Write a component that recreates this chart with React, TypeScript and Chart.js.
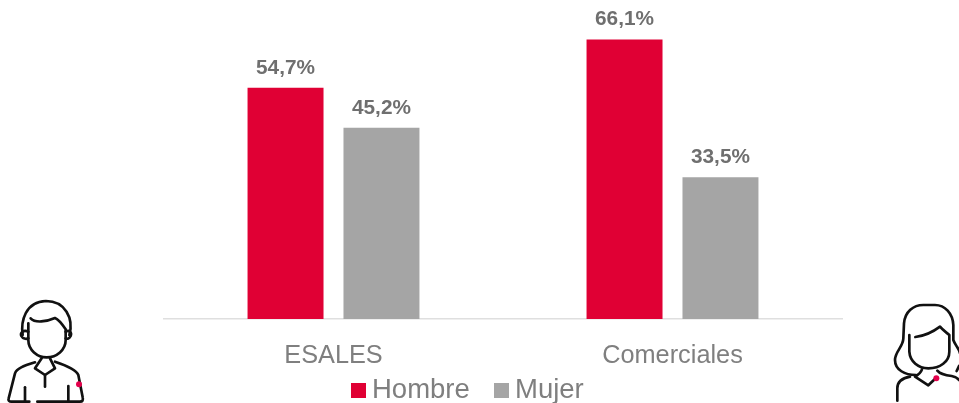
import React, { useEffect, useRef } from "react";
import { Chart, registerables } from "chart.js";

Chart.register(...registerables);

const categories = ["ESALES", "Comerciales"];
const hombre = [54.7, 66.1];
const mujer = [45.2, 33.5];
const RED = "#E00034";
const GREY = "#A5A5A5";
const TEXT = "#7F7F7F";
const LABEL = "#6F6F6F";
const FONT = '"Liberation Sans", Arial, sans-serif';

const fmt = (v: number) => v.toFixed(1).replace(".", ",") + "%";

const valueLabels = {
  id: "valueLabels",
  afterDatasetsDraw(chart: any) {
    const { ctx } = chart;
    ctx.save();
    ctx.font = `bold 20.8px ${FONT}`;
    ctx.fillStyle = LABEL;
    ctx.textAlign = "center";
    ctx.textBaseline = "alphabetic";
    chart.data.datasets.forEach((ds: any, i: number) => {
      chart.getDatasetMeta(i).data.forEach((bar: any, j: number) => {
        ctx.fillText(fmt(ds.data[j]), bar.x, bar.y - 14);
      });
    });
    ctx.restore();
  },
};

const squareLegend = {
  id: "squareLegend",
  afterDraw(chart: any) {
    const { ctx } = chart;
    const starts = [351, 494];
    ctx.save();
    ctx.font = `27.5px ${FONT}`;
    ctx.textBaseline = "alphabetic";
    ctx.textAlign = "left";
    chart.data.datasets.forEach((ds: any, i: number) => {
      ctx.fillStyle = ds.backgroundColor;
      ctx.fillRect(starts[i], 383, 15, 15);
      ctx.fillStyle = TEXT;
      ctx.fillText(ds.label, starts[i] + 21, 398);
    });
    ctx.restore();
  },
};

const iconStroke = {
  fill: "none",
  stroke: "#111111",
  strokeWidth: 8,
  strokeLinecap: "round" as const,
  strokeLinejoin: "round" as const,
};

function ManIcon() {
  return (
    <svg
      width={120}
      height={113}
      viewBox="0 0 360 339"
      style={{ position: "absolute", left: 0, top: 290, filter: "blur(0.35px)" }}
    >
      <g {...iconStroke}>
        <path d="M68 135 C62 95 75 35 138 33 C195 33 222 85 208 135" />
        <path d="M85 100 L85 150 C85 180 112 202 140 202 C170 202 197 180 197 150 L197 118 C185 100 175 88 165 84 C140 95 105 100 92 85" />
        <path d="M85 125 C70 118 60 128 64 138 C68 146 78 148 85 145" />
        <path d="M197 125 C208 118 216 128 212 138 C208 146 202 148 197 145" />
        <path d="M125 205 L105 235 L135 255 L165 235 L150 205" />
        <path d="M135 255 L135 290" />
        <path d="M105 217 C70 228 50 235 45 250 L26 325 C24 332 28 335 34 335 L88 335" />
        <path d="M112 335 L240 335 C248 335 250 330 248 322 L235 255 C228 238 195 225 165 215" />
        <path d="M75 292 L75 332" />
        <path d="M205 288 L205 332" />
      </g>
      <circle cx={237} cy={283} r={9} fill="#E4004B" />
    </svg>
  );
}

function WomanIcon() {
  return (
    <svg
      width={99}
      height={113}
      viewBox="0 0 297 339"
      style={{ position: "absolute", left: 860, top: 290, filter: "blur(0.35px)" }}
    >
      <g {...iconStroke}>
        <path d="M168 255 C135 255 105 240 105 210 C105 185 130 170 130 145 L132 100 C135 65 160 45 190 45 L225 45 C255 45 278 70 280 105 L280 150 C285 165 297 175 300 190" />
        <path d="M148 135 L148 185 C150 215 175 235 205 235 C240 235 268 215 268 185 L268 135 C260 128 248 120 240 110 C220 125 195 138 166 141" />
        <path d="M186 238 C182 250 172 256 165 260 L205 286 L224 268" />
        <path d="M232 242 C240 252 255 256 275 258 C285 260 293 265 297 270" />
        <path d="M112 332 L112 295 C112 275 125 265 150 260" />
        <path d="M290 243 L297 228" />
      </g>
      <circle cx={229} cy={265} r={9} fill="#E4004B" />
    </svg>
  );
}

export default function App() {
  const ref = useRef<HTMLCanvasElement | null>(null);

  useEffect(() => {
    document.body.style.margin = "0";
    const chart = new Chart(ref.current as HTMLCanvasElement, {
      type: "bar",
      data: {
        labels: categories,
        datasets: [
          { label: "Hombre", data: hombre, backgroundColor: RED },
          { label: "Mujer", data: mujer, backgroundColor: GREY },
        ],
      },
      options: {
        animation: false,
        responsive: false,
        layout: { padding: { left: 164, right: 117, top: 23, bottom: 0 } },
        datasets: { bar: { categoryPercentage: 0.566, barPercentage: 0.792 } },
        scales: {
          x: {
            grid: { display: false },
            border: { display: true, color: "#DFDFDF", width: 1.5 },
            ticks: {
              color: TEXT,
              font: { family: FONT, size: 25.3 },
              padding: 14,
              maxRotation: 0,
            },
            afterFit: (axis: any) => {
              axis.height = 84;
            },
          },
          y: { display: false, min: 0, max: 70 },
        },
        plugins: { legend: { display: false }, tooltip: { enabled: false } },
      } as any,
      plugins: [valueLabels, squareLegend],
    });
    return () => chart.destroy();
  }, []);

  return (
    <div style={{ position: "relative", width: 959, height: 403, overflow: "hidden", background: "#fff" }}>
      <canvas ref={ref} width={959} height={403} style={{ display: "block" }} />
      <ManIcon />
      <WomanIcon />
    </div>
  );
}
